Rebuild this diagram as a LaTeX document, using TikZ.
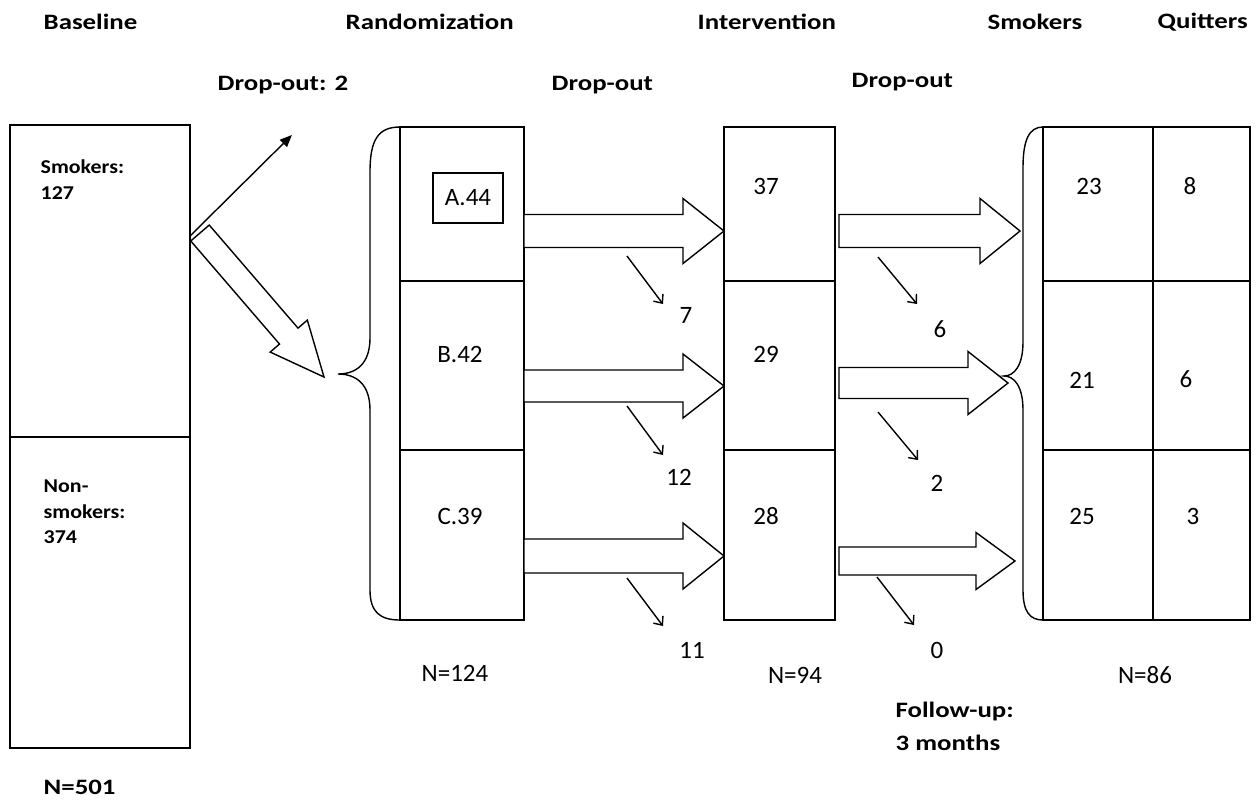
\documentclass[tikz,border=0pt]{standalone}
\usepackage{fontspec}
\setmainfont{Carlito}
\newfontfamily\hdrfont{Carlito}[FakeStretch=1.22]
\newfontfamily\smlfont{Carlito}[FakeStretch=1.12]
\usetikzlibrary{arrows.meta,calc}
\newcommand\fatarr[5]{%
  \coordinate (fa-s) at (#1);
  \coordinate (fa-e) at (#2);
  \coordinate (fa-h) at ($(fa-e)!#5!(fa-s)$);
  \draw[blk] ($(fa-s)!#3!90:(fa-e)$) -- ($(fa-h)!#3!90:(fa-e)$) -- ($(fa-h)!#4!90:(fa-e)$) -- (fa-e)
    -- ($(fa-h)!#4!-90:(fa-e)$) -- ($(fa-h)!#3!-90:(fa-e)$) -- ($(fa-s)!#3!-90:(fa-e)$) -- cycle;}
\begin{document}
\begin{tikzpicture}[x=0.5pt,y=-0.5pt,line width=0.7pt,
  cell/.style={draw, anchor=north west, inner sep=0pt, outer sep=0pt},
  hdr/.style={font=\fontsize{11}{13}\hdrfont\bfseries, anchor=west, inner sep=0pt},
  num/.style={font=\fontsize{12.5}{15}\selectfont, inner sep=0pt},
  sml/.style={font=\fontsize{9.8}{12.8}\smlfont\bfseries, anchor=north west, align=left, inner sep=0pt},
  blk/.style={draw, fill=white, line join=miter},
  drop/.style={-{Straight Barb[length=3.5pt,width=6pt]}},
  thin/.style={-{Triangle[length=6pt,width=5pt]}},
  bracepath/.style={draw}]
\useasboundingbox (0,0) rectangle (1260,800);

% headers
\node[hdr] (hBase) at (43,22) {Baseline};
\node[hdr] (hRand) at (345,22) {Randomization};
\node[hdr] (hInt) at (697,22) {Intervention};
\node[hdr] (hSmk) at (987,22) {Smokers};
\node[hdr] (hQuit) at (1157,22) {Quitters};
\node[hdr] (do1) at (217,85) {Drop-out: 2};
\node[hdr] (do2) at (551,85) {Drop-out};
\node[hdr] (do3) at (851,82) {Drop-out};

% baseline
\node[cell, minimum width=90pt, minimum height=156pt] (bA) at (10,125) {};
\node[cell, minimum width=90pt, minimum height=155.5pt] (bB) at (10,437) {};
\node[sml] (tSm) at (40,159) {Smokers:\\127};
\node[sml] (tNs) at (43,479) {Non-\\smokers:\\374};
\node[hdr] (n501) at (43,787) {N=501};

% randomization
\node[cell, minimum width=62pt, minimum height=77pt] (rA) at (400,127) {};
\node[cell, minimum width=62pt, minimum height=84.5pt] (rB) at (400,281) {};
\node[cell, minimum width=62pt, minimum height=85pt] (rC) at (400,450) {};
\node[num, draw, minimum width=35pt, minimum height=25pt] (tA) at (468,198) {A.44};
\node[num] (tB) at (460,354) {B.42};
\node[num] (tC) at (460,516) {C.39};
\node[num] (n124) at (455,673) {N=124};

% intervention
\node[cell, minimum width=55.5pt, minimum height=77pt] (iA) at (724,127) {};
\node[cell, minimum width=55.5pt, minimum height=84.5pt] (iB) at (724,281) {};
\node[cell, minimum width=55.5pt, minimum height=85pt] (iC) at (724,450) {};
\node[num] (t37) at (766,186) {37};
\node[num] (t29) at (766,354) {29};
\node[num] (t28) at (766,516) {28};
\node[num] (n94) at (795,675) {N=94};

% outcome
\node[cell, minimum width=55pt, minimum height=77pt] (oSA) at (1043,127) {};
\node[cell, minimum width=55pt, minimum height=84.5pt] (oSB) at (1043,281) {};
\node[cell, minimum width=55pt, minimum height=85pt] (oSC) at (1043,450) {};
\node[cell, minimum width=48.5pt, minimum height=77pt] (oQA) at (1153,127) {};
\node[cell, minimum width=48.5pt, minimum height=84.5pt] (oQB) at (1153,281) {};
\node[cell, minimum width=48.5pt, minimum height=85pt] (oQC) at (1153,450) {};
\node[num] (t23) at (1089,186) {23};
\node[num] (t8) at (1190,186) {8};
\node[num] (t21) at (1082,380) {21};
\node[num] (t6b) at (1186,379) {6};
\node[num] (t25) at (1082,516) {25};
\node[num] (t3) at (1193,516) {3};
\node[num] (n86) at (1145,675) {N=86};
\node[hdr, anchor=north west, align=left, font=\fontsize{11}{16.5}\hdrfont\bfseries] (fu) at (895,701) {Follow-up:\\3 months};

% braces
\coordinate (braceL) at (338,374);
\draw[bracepath] (rA.north west) .. controls (378,127) and (370,140) .. (370,172) -- (370,338)
  .. controls (370,364) and (356,374) .. (braceL)
  .. controls (356,374) and (370,384) .. (370,410) -- (370,590)
  .. controls (370,612) and (380,620) .. (rC.south west);
\coordinate (braceR) at (1004,376);
\draw[bracepath] (oSA.north west) .. controls (1029,127) and (1023,140) .. (1023,168) -- (1023,342)
  .. controls (1023,366) and (1014,376) .. (braceR)
  .. controls (1014,376) and (1023,386) .. (1023,410) -- (1023,590)
  .. controls (1023,612) and (1030,620) .. (oSC.south west);

% drop-out numbers
\node[num] (n7) at (686,315) {7};
\node[num] (n12) at (679,477) {12};
\node[num] (n11) at (692,650) {11};
\node[num] (n6) at (940,329) {6};
\node[num] (n2) at (937,483) {2};
\node[num] (n0) at (937,650) {0};

% thin arrows
\draw[thin] ([yshift=22.5pt]bA.east) -- ([shift={(9,50)}]do1.center);
\draw[drop] ([shift={(-59,-59)}]n7.center) -- ([shift={(-23,-11)}]n7.center);
\draw[drop] ([shift={(-52,-71)}]n12.center) -- ([shift={(-16,-22)}]n12.center);
\draw[drop] ([shift={(-65,-72)}]n11.center) -- ([shift={(-29,-24)}]n11.center);
\draw[drop] ([shift={(-62,-72)}]n6.center) -- ([shift={(-23,-25)}]n6.center);
\draw[drop] ([shift={(-59,-71)}]n2.center) -- ([shift={(-19,-23)}]n2.center);
\draw[drop] ([shift={(-60,-73)}]n0.center) -- ([shift={(-23,-25)}]n0.center);

% block arrows
\fatarr{[xshift=5pt,yshift=24pt]bA.east}{[xshift=-7pt,yshift=-1.5pt]braceL}{6.1pt}{12.25pt}{27pt}
\fatarr{[yshift=-13.5pt]rA.east}{[yshift=-13.5pt]iA.west}{8.25pt}{16.25pt}{20.5pt}
\fatarr{[yshift=-10.25pt]rB.east}{[yshift=-10.25pt]iB.west}{8pt}{16pt}{20.5pt}
\fatarr{[yshift=-10.5pt]rC.east}{[yshift=-10.5pt]iC.west}{8.5pt}{16.5pt}{20.5pt}
\fatarr{[xshift=2pt,yshift=-13.5pt]iA.east}{[xshift=-11.5pt,yshift=-13.5pt]oSA.west}{8.25pt}{16.25pt}{20pt}
\fatarr{[xshift=2pt,yshift=-8.75pt]iB.east}{[xshift=-17.5pt,yshift=-8.75pt]oSB.west}{7.75pt}{15.75pt}{20pt}
\fatarr{[xshift=2pt,yshift=-13pt]iC.east}{[xshift=-14pt,yshift=-13pt]oSC.west}{7pt}{14.25pt}{19.5pt}
\end{tikzpicture}
\end{document}
